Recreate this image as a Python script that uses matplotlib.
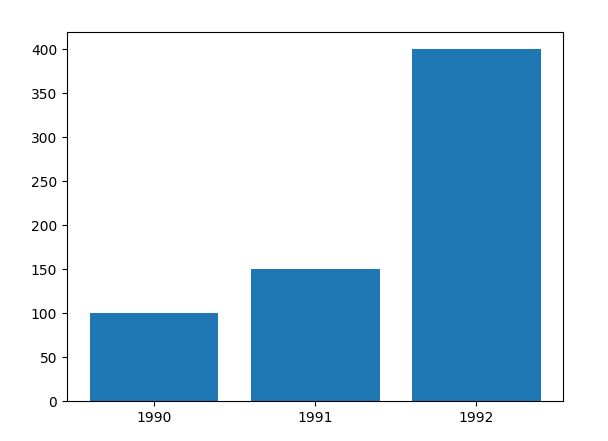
import matplotlib
matplotlib.use("Agg")
import matplotlib.pyplot as plt

# data
years = ["1990", "1991", "1992"]
values = [100, 150, 400]

fig = plt.figure(figsize=(6.08, 4.41), dpi=100)
ax = fig.add_axes([67/608, 1 - 401.3/441, (563.3-67)/608, (401.3-31.6)/441])
ax.bar(years, values, color="#1f77b4")
fig.savefig("out.png", dpi=100)
